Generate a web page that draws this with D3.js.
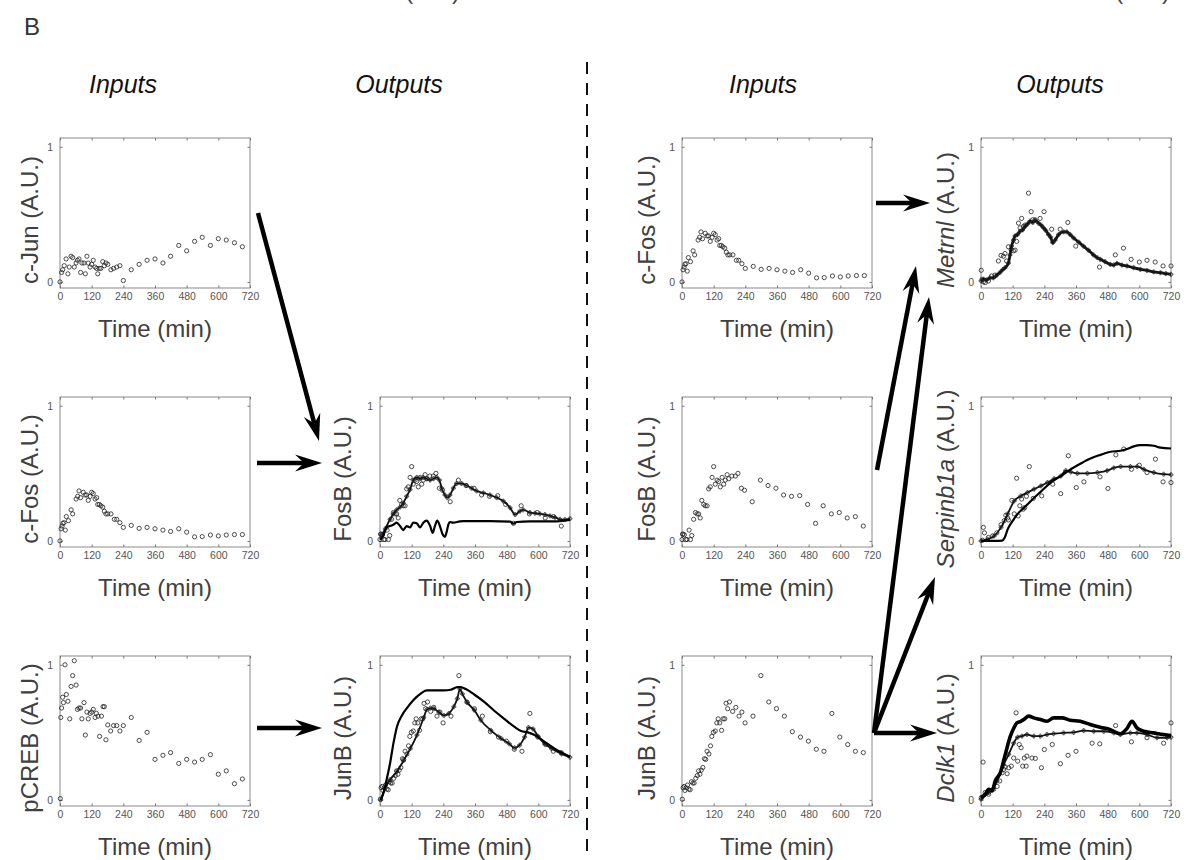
<!DOCTYPE html>
<html>
<head>
<meta charset="utf-8">
<script src="https://cdn.jsdelivr.net/npm/d3@7"></script>
<style>
  body { margin: 0; background: #fff; }
  svg { display: block; font-family: 'Liberation Sans', Arial, sans-serif; }
  .tick line { stroke: #777; }
</style>
</head>
<body>
<svg id="chart" width="1191" height="860"></svg>
<script>
// ---- data, [time (min), value (A.U.)] ----
var cJunData = [[0,0],[6,0.07],[10,0.09],[16,0.12],[23,0.17],[30,0.06],[35,0.11],[42,0.19],[48,0.18],[54,0.11],[61,0.14],[66,0.16],[72,0.17],[78,0.07],[83,0.14],[91,0.14],[96,0.06],[102,0.19],[107,0.14],[114,0.11],[120,0.13],[126,0.16],[133,0.11],[139,0.10],[143,0.06],[149,0.10],[155,0.10],[162,0.15],[168,0.12],[174,0.14],[181,0.13],[193,0.09],[203,0.10],[215,0.11],[227,0.12],[240,0.01],[270,0.09],[300,0.13],[330,0.16],[360,0.17],[390,0.14],[419,0.19],[450,0.27],[480,0.23],[510,0.30],[539,0.33],[570,0.27],[600,0.32],[630,0.31],[661,0.29],[691,0.26]]

var cFosData = [[0,0],[4,0.09],[8,0.11],[11,0.13],[15,0.135],[20,0.08],[24,0.18],[32,0.15],[42,0.23],[48,0.20],[61,0.31],[67,0.33],[72,0.37],[78,0.32],[88,0.36],[95,0.34],[101,0.34],[107,0.30],[114,0.33],[120,0.36],[126,0.35],[133,0.31],[139,0.32],[143,0.27],[149,0.27],[155,0.26],[162,0.25],[168,0.22],[174,0.20],[181,0.20],[193,0.20],[206,0.16],[215,0.16],[227,0.135],[240,0.10],[270,0.115],[300,0.093],[330,0.10],[360,0.09],[390,0.08],[419,0.07],[450,0.09],[480,0.065],[510,0.03],[539,0.032],[570,0.044],[600,0.037],[630,0.044],[661,0.047],[691,0.047]]

var pCREBData = [[1,0.01],[3,0.61],[6,0.68],[10,0.76],[13,0.72],[19,1.0],[24,0.78],[30,0.73],[37,0.60],[42,0.84],[48,0.92],[54,1.03],[61,0.85],[66,0.67],[72,0.68],[78,0.68],[83,0.60],[91,0.72],[96,0.48],[102,0.65],[107,0.60],[114,0.64],[120,0.65],[126,0.67],[133,0.61],[138,0.64],[144,0.62],[150,0.47],[157,0.62],[163,0.69],[168,0.69],[174,0.445],[181,0.555],[192,0.51],[203,0.55],[215,0.55],[227,0.51],[240,0.55],[270,0.61],[300,0.44],[330,0.50],[360,0.30],[390,0.33],[419,0.35],[450,0.27],[480,0.30],[510,0.28],[539,0.30],[570,0.335],[600,0.19],[630,0.215],[661,0.12],[691,0.155]]

var fosBData = [[0,0.01],[2,0.05],[4,0.05],[9,0.045],[14,0.01],[19,0.01],[27,0.08],[32,0.01],[37,0.04],[44,0.16],[51,0.21],[57,0.20],[63,0.20],[69,0.17],[75,0.30],[82,0.27],[88,0.26],[95,0.26],[101,0.385],[107,0.40],[114,0.47],[120,0.55],[126,0.42],[133,0.45],[139,0.44],[145,0.40],[152,0.47],[158,0.42],[164,0.45],[171,0.49],[177,0.46],[189,0.48],[202,0.48],[212,0.50],[225,0.39],[237,0.375],[266,0.29],[297,0.45],[326,0.41],[356,0.39],[385,0.34],[415,0.33],[446,0.335],[476,0.27],[506,0.13],[535,0.26],[566,0.20],[596,0.21],[626,0.17],[657,0.18],[687,0.11]]

var junBData = [[1,0.005],[4,0.09],[8,0.10],[11,0.07],[16,0.09],[21,0.11],[26,0.08],[31,0.075],[36,0.135],[41,0.125],[46,0.125],[52,0.16],[58,0.18],[63,0.215],[68,0.19],[73,0.22],[79,0.24],[85,0.305],[90,0.30],[95,0.36],[102,0.34],[108,0.40],[113,0.47],[119,0.50],[126,0.51],[132,0.57],[137,0.60],[143,0.57],[150,0.515],[156,0.60],[162,0.60],[167,0.715],[173,0.675],[180,0.725],[192,0.655],[204,0.685],[216,0.62],[227,0.65],[239,0.57],[269,0.62],[299,0.92],[329,0.725],[358,0.675],[388,0.62],[418,0.505],[449,0.465],[479,0.435],[509,0.375],[538,0.36],[568,0.64],[598,0.465],[628,0.41],[657,0.36],[687,0.35]]

var fosBModelPlus = [[6,0.04],[20,0.09],[38,0.16],[50,0.2],[63,0.23],[76,0.25],[88,0.28],[101,0.33],[114,0.38],[126,0.45],[139,0.47],[152,0.46],[164,0.47],[177,0.46],[190,0.45],[203,0.46],[215,0.47],[225,0.45],[234,0.39],[246,0.34],[255,0.32],[265,0.34],[278,0.39],[290,0.425],[309,0.425],[328,0.41],[347,0.39],[366,0.37],[392,0.355],[417,0.34],[442,0.32],[467,0.295],[493,0.245],[512,0.195],[530,0.22],[543,0.23],[568,0.21],[587,0.205],[606,0.20],[625,0.195],[644,0.185],[663,0.175],[682,0.16],[701,0.158],[720,0.165]]

var fosBModelLine = [[0,0.01],[13,0.04],[25,0.10],[38,0.11],[50,0.12],[63,0.135],[76,0.11],[88,0.08],[101,0.11],[114,0.10],[126,0.135],[139,0.13],[152,0.10],[164,0.135],[177,0.15],[190,0.11],[200,0.06],[208,0.11],[217,0.15],[227,0.11],[237,0.05],[246,0.03],[253,0.07],[259,0.12],[265,0.14],[278,0.135],[303,0.145],[316,0.147],[417,0.147],[493,0.143],[505,0.128],[518,0.14],[568,0.145],[669,0.145],[720,0.155]]

var junBModelPlus = [[3,0],[19,0.085],[38,0.15],[64,0.21],[89,0.29],[115,0.38],[140,0.48],[166,0.61],[178,0.67],[191,0.68],[204,0.675],[223,0.65],[242,0.625],[261,0.64],[280,0.69],[293,0.75],[303,0.82],[312,0.785],[331,0.72],[357,0.665],[382,0.59],[420,0.515],[459,0.455],[490,0.415],[510,0.385],[529,0.405],[548,0.465],[563,0.535],[580,0.525],[599,0.47],[624,0.415],[650,0.38],[688,0.34],[720,0.315]]

var junBModelLine = [[3,0],[13,0.05],[25,0.15],[38,0.27],[51,0.42],[64,0.54],[83,0.625],[102,0.68],[127,0.74],[153,0.785],[178,0.81],[204,0.81],[242,0.81],[268,0.815],[293,0.835],[306,0.835],[325,0.82],[357,0.78],[395,0.725],[433,0.66],[471,0.60],[510,0.54],[535,0.51],[561,0.50],[586,0.48],[624,0.43],[662,0.38],[720,0.32]]

var metrnlData = [[1,0.086],[4,0.02],[9,0.0],[16,-0.005],[28,0.007],[40,0.044],[53,0.05],[66,0.155],[76,0.196],[85,0.19],[91,0.21],[97,0.155],[104,0.26],[114,0.24],[123,0.23],[129,0.235],[135,0.30],[142,0.435],[148,0.40],[154,0.47],[161,0.41],[167,0.42],[180,0.657],[190,0.52],[196,0.46],[205,0.46],[224,0.47],[239,0.52],[268,0.39],[300,0.39],[329,0.44],[359,0.265],[449,0.11],[509,0.20],[540,0.25],[569,0.167],[600,0.147],[629,0.16],[660,0.147],[690,0.118],[720,0.118]]

var metrnlModel = [[0,0.007],[10,0.02],[21,0.015],[34,0.03],[47,0.03],[60,0.05],[72,0.07],[82,0.09],[91,0.105],[104,0.14],[110,0.2],[116,0.265],[123,0.31],[129,0.34],[138,0.35],[148,0.375],[158,0.385],[167,0.41],[177,0.43],[186,0.45],[196,0.44],[205,0.455],[218,0.435],[228,0.42],[237,0.40],[246,0.38],[256,0.35],[264,0.33],[272,0.29],[281,0.31],[294,0.35],[313,0.37],[325,0.37],[338,0.35],[351,0.325],[370,0.295],[388,0.265],[407,0.235],[426,0.20],[440,0.18],[452,0.167],[470,0.15],[490,0.13],[503,0.125],[515,0.137],[534,0.125],[553,0.118],[578,0.105],[604,0.093],[629,0.085],[654,0.074],[680,0.068],[700,0.062],[720,0.056]]

var serpinData = [[6,0.005],[9,0.10],[13,0.06],[28,0.025],[44,0.037],[60,0.06],[76,0.12],[88,0.15],[94,0.19],[101,0.17],[104,0.155],[117,0.30],[126,0.20],[135,0.464],[141,0.185],[147,0.26],[154,0.31],[160,0.235],[166,0.247],[172,0.33],[183,0.55],[198,0.315],[230,0.333],[272,0.42],[302,0.35],[331,0.63],[361,0.395],[390,0.437],[451,0.474],[481,0.388],[511,0.637],[541,0.68],[570,0.53],[600,0.56],[629,0.506],[661,0.605],[690,0.437],[720,0.432]]

var serpinModelLine = [[0,0],[50,0],[80,0.002],[90,0.025],[101,0.086],[120,0.148],[138,0.198],[164,0.247],[189,0.296],[227,0.365],[264,0.432],[302,0.48],[340,0.53],[378,0.573],[415,0.61],[453,0.637],[491,0.66],[529,0.667],[554,0.68],[579,0.70],[604,0.709],[629,0.709],[655,0.704],[680,0.69],[720,0.684]]

var serpinModelPlus = [[0,0],[25,0.012],[50,0.037],[76,0.10],[101,0.20],[126,0.296],[151,0.333],[176,0.358],[201,0.383],[227,0.407],[252,0.432],[277,0.46],[302,0.48],[321,0.52],[340,0.51],[365,0.50],[403,0.50],[441,0.506],[478,0.52],[503,0.54],[529,0.55],[566,0.55],[592,0.55],[617,0.53],[655,0.506],[692,0.494],[720,0.49]]

var dclk1Data = [[1,0.017],[8,0.28],[16,0.054],[29,0.042],[48,0.079],[61,0.10],[71,0.14],[80,0.20],[86,0.226],[92,0.243],[99,0.194],[105,0.238],[115,0.25],[124,0.31],[133,0.644],[139,0.287],[145,0.41],[152,0.386],[158,0.25],[164,0.31],[171,0.25],[174,0.324],[193,0.31],[206,0.307],[229,0.238],[240,0.373],[270,0.41],[301,0.268],[330,0.33],[360,0.36],[421,0.42],[450,0.415],[510,0.55],[570,0.43],[629,0.46],[692,0.42],[720,0.57]]

var dclk1ModelLine = [[0,0.017],[16,0.042],[29,0.079],[42,0.066],[54,0.14],[73,0.20],[92,0.337],[111,0.47],[124,0.53],[136,0.57],[149,0.58],[162,0.595],[181,0.62],[200,0.607],[225,0.595],[250,0.582],[275,0.607],[307,0.607],[338,0.59],[376,0.582],[414,0.558],[452,0.538],[490,0.52],[528,0.49],[553,0.528],[572,0.582],[591,0.533],[616,0.508],[654,0.496],[692,0.484],[720,0.477]]

var dclk1ModelPlus = [[0,0.005],[29,0.054],[61,0.14],[86,0.26],[105,0.337],[124,0.42],[139,0.464],[155,0.472],[174,0.484],[200,0.472],[225,0.472],[250,0.484],[275,0.49],[313,0.496],[351,0.50],[389,0.513],[427,0.508],[465,0.508],[503,0.496],[528,0.484],[566,0.496],[591,0.496],[629,0.484],[667,0.46],[705,0.46],[720,0.464]]

var timeTicks = [0, 120, 240, 360, 480, 600, 720]
var valueTicks = [0, 1]

// ---- layout ----
var colX = [60, 380, 682, 981]
var rowY = [138, 397, 656]
var labelX = [30, 343, 647, 946]
var W = 190, H = 150

var panels = [
  { col: 0, row: 0, name: 'c-Jun', circles: cJunData },
  { col: 0, row: 1, name: 'c-Fos', circles: cFosData },
  { col: 0, row: 2, name: 'pCREB', circles: pCREBData },
  { col: 1, row: 1, name: 'FosB', circles: fosBData, plus: fosBModelPlus, line: fosBModelLine },
  { col: 1, row: 2, name: 'JunB', circles: junBData, plus: junBModelPlus, line: junBModelLine },
  { col: 2, row: 0, name: 'c-Fos', circles: cFosData },
  { col: 2, row: 1, name: 'FosB', circles: fosBData },
  { col: 2, row: 2, name: 'JunB', circles: junBData },
  { col: 3, row: 0, name: 'Metrnl', italic: true, circles: metrnlData, plus: metrnlModel, plusWidth: 2.8 },
  { col: 3, row: 1, name: 'Serpinb1a', italic: true, circles: serpinData, plus: serpinModelPlus, line: serpinModelLine },
  { col: 3, row: 2, name: 'Dclk1', italic: true, circles: dclk1Data, plus: dclk1ModelPlus, line: dclk1ModelLine, lineWidth: 3.6 }
]

// annotation arrows, [from, to] in page pixels
var arrows = [
  [[258, 213], [319, 441]],
  [[257, 463], [322, 463]],
  [[257, 728], [322, 728]],
  [[876, 203], [930, 203]],
  [[877, 470], [916, 266]],
  [[874, 733], [929, 297]],
  [[874, 733], [935, 577]],
  [[874, 733], [937, 733]]
]

var svg = d3.select('#chart')

svg.append('text')
  .attr('x', 24).attr('y', 35)
  .attr('font-size', 24).attr('fill', '#333')
  .text('B')

// bottoms of the labels of the panels above, cut by the page edge
;[403, 1113].forEach(cx => {
  svg.append('text')
    .attr('x', cx).attr('y', -1)
    .attr('text-anchor', 'middle')
    .attr('font-size', 24).attr('fill', '#444')
    .text('Time (min)')
})

var titles = [['Inputs', 123], ['Outputs', 399], ['Inputs', 763], ['Outputs', 1060]]
svg.selectAll('text.title').data(titles)
  .enter().append('text')
    .attr('class', 'title')
    .attr('x', d => d[1]).attr('y', 93)
    .attr('text-anchor', 'middle')
    .attr('font-size', 25)
    .attr('font-style', 'italic')
    .attr('fill', '#111')
    .text(d => d[0])

svg.append('line')
  .attr('x1', 587).attr('x2', 587)
  .attr('y1', 62).attr('y2', 860)
  .attr('stroke', '#111')
  .attr('stroke-width', 2)
  .attr('stroke-dasharray', '12,9')

panels.forEach(p => drawPanel(p))
arrows.forEach(a => drawArrow(a[0], a[1]))

function drawPanel(p) {
  var x0 = colX[p.col], y0 = rowY[p.row]
  var g = svg.append('g').attr('transform', `translate(${x0},${y0})`)

  var x = d3.scaleLinear().domain([0, 720]).range([0, W])
  var y = d3.scaleLinear().domain([-0.045, 1.065]).range([H, 0])
  var fmt = d3.format('d')

  g.append('rect')
    .attr('width', W).attr('height', H)
    .attr('fill', 'none')
    .attr('stroke', '#8a8a8a')
    .attr('stroke-width', 1)

  g.append('g')
    .attr('transform', `translate(0,${H})`)
    .call(d3.axisBottom(x).tickValues(timeTicks).tickFormat(fmt).tickSizeInner(-2.5).tickSizeOuter(0).tickPadding(5))
  g.append('g')
    .call(d3.axisTop(x).tickValues(timeTicks).tickFormat('').tickSizeInner(-2.5).tickSizeOuter(0))
  g.append('g')
    .call(d3.axisLeft(y).tickValues(valueTicks).tickFormat(fmt).tickSizeInner(-2.5).tickSizeOuter(0).tickPadding(7))
  g.append('g')
    .attr('transform', `translate(${W},0)`)
    .call(d3.axisRight(y).tickValues(valueTicks).tickFormat('').tickSizeInner(-2.5).tickSizeOuter(0))
  g.selectAll('.domain').remove()
  g.selectAll('g').attr('font-family', null).attr('font-size', null)
  g.selectAll('.tick text')
    .attr('font-size', 10.5)
    .attr('fill', '#555')

  // x label
  g.append('text')
    .attr('x', W / 2).attr('y', H + 49)
    .attr('text-anchor', 'middle')
    .attr('font-size', 24).attr('fill', '#404040')
    .text('Time (min)')

  // y label
  var yl = svg.append('text')
    .attr('transform', `translate(${labelX[p.col]},${y0 + H / 2 + 7}) rotate(-90)`)
    .attr('text-anchor', 'middle')
    .attr('dy', '0.35em')
    .attr('font-size', 24).attr('fill', '#404040')
  yl.append('tspan').attr('font-style', p.italic ? 'italic' : 'normal').text(p.name)
  yl.append('tspan').text(' (A.U.)')

  var clip = 'clip' + p.col + p.row
  g.append('clipPath').attr('id', clip)
    .append('rect').attr('x', -3).attr('y', -3).attr('width', W + 6).attr('height', H + 6)
  var plot = g.append('g').attr('clip-path', `url(#${clip})`)

  plot.selectAll('circle').data(p.circles)
    .enter().append('circle')
      .attr('cx', d => x(d[0]))
      .attr('cy', d => y(d[1]))
      .attr('r', 2.1)
      .attr('fill', 'none')
      .attr('stroke', '#222')
      .attr('stroke-width', 0.8)

  var path = d3.line().x(d => x(d[0])).y(d => y(d[1])).curve(d3.curveMonotoneX)

  if (p.plus) {
    plot.append('path')
      .datum(p.plus)
      .attr('d', path)
      .attr('fill', 'none')
      .attr('stroke', '#111')
      .attr('stroke-width', p.plusWidth || 1.8)
    plot.selectAll('path.cross').data(p.plus)
      .enter().append('path')
        .attr('class', 'cross')
        .attr('d', d3.symbol(d3.symbolCross, 9))
        .attr('transform', d => `translate(${x(d[0])},${y(d[1])})`)
        .attr('fill', 'none')
        .attr('stroke', '#222')
        .attr('stroke-width', 0.7)
  }

  if (p.line) {
    plot.append('path')
      .datum(p.line)
      .attr('d', path)
      .attr('fill', 'none')
      .attr('stroke', '#000')
      .attr('stroke-width', p.lineWidth || 2.2)
  }
}

function drawArrow(from, to) {
  var dx = to[0] - from[0], dy = to[1] - from[1]
  var len = Math.sqrt(dx * dx + dy * dy)
  var ux = dx / len, uy = dy / len
  var headLen = 27, headHalf = 8.5, notch = 9
  var base = [to[0] - ux * headLen, to[1] - uy * headLen]
  svg.append('line')
    .attr('x1', from[0]).attr('y1', from[1])
    .attr('x2', base[0] + ux * notch).attr('y2', base[1] + uy * notch)
    .attr('stroke', '#000')
    .attr('stroke-width', 4.5)
  var pts = [
    to,
    [base[0] - uy * headHalf, base[1] + ux * headHalf],
    [base[0] + ux * notch, base[1] + uy * notch],
    [base[0] + uy * headHalf, base[1] - ux * headHalf]
  ]
  svg.append('polygon')
    .attr('points', pts.map(d => d.join(',')).join(' '))
    .attr('fill', '#000')
}
</script>
</body>
</html>
